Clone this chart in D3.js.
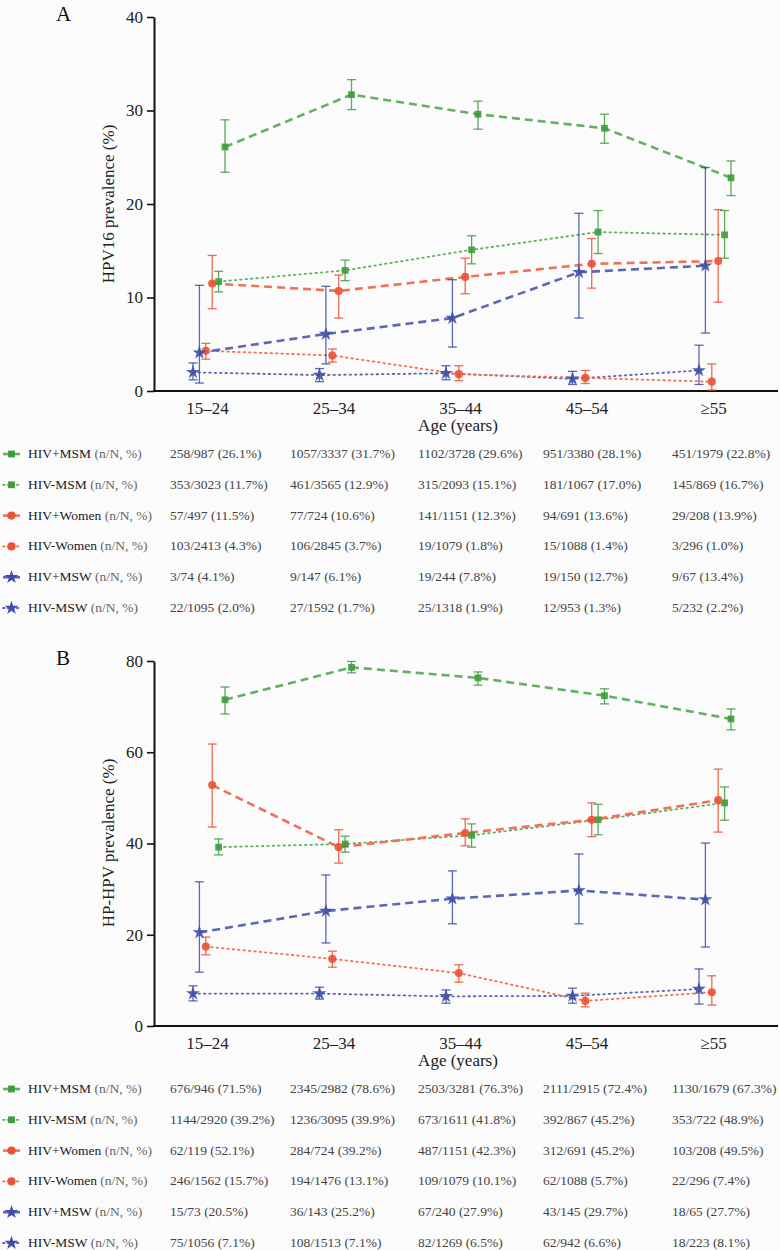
<!DOCTYPE html>
<html>
<head>
<meta charset="utf-8">
<script src="https://cdn.jsdelivr.net/npm/d3@7"></script>
<style>
  html, body { margin: 0; padding: 0; background: #fbfbfb; }
  svg text { font-family: "Liberation Serif", "Tinos", "Times New Roman", "Noto Serif", "Noto Serif CJK SC", "Source Han Serif SC", "DejaVu Serif", "FreeSerif", "Nimbus Roman", "Nimbus Roman No9 L", "Times", serif; }
</style>
</head>
<body>
<svg id="chart" width="780" height="1250"></svg>
<script>
// ---------- DATA ----------
const categories = ["15–24", "25–34", "35–44", "45–54", "≥55"];
const seriesNames = ["HIV+MSM", "HIV-MSM", "HIV+Women", "HIV-Women", "HIV+MSW", "HIV-MSW"];

// Panel A: HPV16 prevalence (%)
const aHivPosMSM      = [26.1, 31.7, 29.6, 28.1, 22.8];
const aHivPosMSMLo    = [23.4, 30.1, 28.0, 26.5, 20.9];
const aHivPosMSMHi    = [29.0, 33.3, 31.0, 29.6, 24.6];
const aHivNegMSM      = [11.7, 12.9, 15.1, 17.0, 16.7];
const aHivNegMSMLo    = [10.6, 11.8, 13.6, 14.7, 14.2];
const aHivNegMSMHi    = [12.8, 14.0, 16.6, 19.3, 19.3];
const aHivPosWomen    = [11.5, 10.7, 12.2, 13.6, 13.9];
const aHivPosWomenLo  = [8.8, 7.8, 10.4, 11.0, 9.5];
const aHivPosWomenHi  = [14.5, 12.4, 14.2, 16.3, 19.4];
const aHivNegWomen    = [4.3, 3.8, 1.8, 1.4, 1.0];
const aHivNegWomenLo  = [3.4, 3.1, 1.1, 0.8, 0.1];
const aHivNegWomenHi  = [5.1, 4.5, 2.7, 2.2, 2.9];
const aHivPosMSW      = [4.1, 6.1, 7.8, 12.7, 13.4];
const aHivPosMSWLo    = [0.85, 2.9, 4.7, 7.8, 6.2];
const aHivPosMSWHi    = [11.3, 11.2, 11.9, 19.0, 23.9];
const aHivNegMSW      = [2.0, 1.7, 1.9, 1.3, 2.2];
const aHivNegMSWLo    = [1.2, 1.0, 1.2, 0.7, 0.7];
const aHivNegMSWHi    = [3.0, 2.4, 2.7, 2.1, 4.9];

const aTableHivPosMSM   = ["258/987 (26.1%)", "1057/3337 (31.7%)", "1102/3728 (29.6%)", "951/3380 (28.1%)", "451/1979 (22.8%)"];
const aTableHivNegMSM   = ["353/3023 (11.7%)", "461/3565 (12.9%)", "315/2093 (15.1%)", "181/1067 (17.0%)", "145/869 (16.7%)"];
const aTableHivPosWomen = ["57/497 (11.5%)", "77/724 (10.6%)", "141/1151 (12.3%)", "94/691 (13.6%)", "29/208 (13.9%)"];
const aTableHivNegWomen = ["103/2413 (4.3%)", "106/2845 (3.7%)", "19/1079 (1.8%)", "15/1088 (1.4%)", "3/296 (1.0%)"];
const aTableHivPosMSW   = ["3/74 (4.1%)", "9/147 (6.1%)", "19/244 (7.8%)", "19/150 (12.7%)", "9/67 (13.4%)"];
const aTableHivNegMSW   = ["22/1095 (2.0%)", "27/1592 (1.7%)", "25/1318 (1.9%)", "12/953 (1.3%)", "5/232 (2.2%)"];

// Panel B: HP-HPV prevalence (%)
const bHivPosMSM      = [71.5, 78.6, 76.3, 72.4, 67.3];
const bHivPosMSMLo    = [68.4, 77.4, 74.7, 70.6, 64.9];
const bHivPosMSMHi    = [74.3, 79.9, 77.6, 73.9, 69.5];
const bHivNegMSM      = [39.2, 39.9, 41.8, 45.2, 48.9];
const bHivNegMSMLo    = [37.5, 38.1, 39.2, 41.9, 45.1];
const bHivNegMSMHi    = [41.0, 41.6, 44.3, 48.6, 52.4];
const bHivPosWomen    = [52.8, 39.2, 42.3, 45.2, 49.5];
const bHivPosWomenLo  = [43.6, 35.7, 39.5, 41.5, 42.5];
const bHivPosWomenHi  = [61.8, 43.0, 45.4, 48.9, 56.3];
const bHivNegWomen    = [17.4, 14.7, 11.6, 5.5, 7.4];
const bHivNegWomenLo  = [15.6, 12.9, 9.6, 4.2, 4.6];
const bHivNegWomenHi  = [19.5, 16.4, 13.4, 7.2, 11.0];
const bHivPosMSW      = [20.5, 25.2, 27.9, 29.7, 27.7];
const bHivPosMSWLo    = [11.8, 18.2, 22.4, 22.4, 17.3];
const bHivPosMSWHi    = [31.6, 33.1, 34.0, 37.7, 40.1];
const bHivNegMSW      = [7.1, 7.1, 6.5, 6.6, 8.1];
const bHivNegMSWLo    = [5.5, 5.9, 5.0, 5.0, 4.8];
const bHivNegMSWHi    = [8.8, 8.5, 7.9, 8.3, 12.5];

const bTableHivPosMSM   = ["676/946 (71.5%)", "2345/2982 (78.6%)", "2503/3281 (76.3%)", "2111/2915 (72.4%)", "1130/1679 (67.3%)"];
const bTableHivNegMSM   = ["1144/2920 (39.2%)", "1236/3095 (39.9%)", "673/1611 (41.8%)", "392/867 (45.2%)", "353/722 (48.9%)"];
const bTableHivPosWomen = ["62/119 (52.1%)", "284/724 (39.2%)", "487/1151 (42.3%)", "312/691 (45.2%)", "103/208 (49.5%)"];
const bTableHivNegWomen = ["246/1562 (15.7%)", "194/1476 (13.1%)", "109/1079 (10.1%)", "62/1088 (5.7%)", "22/296 (7.4%)"];
const bTableHivPosMSW   = ["15/73 (20.5%)", "36/143 (25.2%)", "67/240 (27.9%)", "43/145 (29.7%)", "18/65 (27.7%)"];
const bTableHivNegMSW   = ["75/1056 (7.1%)", "108/1513 (7.1%)", "82/1269 (6.5%)", "62/942 (6.6%)", "18/223 (8.1%)"];

const yTicksA = [0, 10, 20, 30, 40];
const yTicksB = [0, 20, 40, 60, 80];

// ---------- STYLES ----------
const GREEN = "#3d9c3d", GREEN_L = "#63b063";
const RED = "#ea5236", RED_L = "#ef7256";
const BLUE = "#3e4ea6", BLUE_L = "#5d68b3";
const styleOf = {
  "HIV+MSM":   {color: GREEN, line: GREEN_L, dash: "8,5", width: 2.6, shape: d3.symbolSquare, size: 46},
  "HIV-MSM":   {color: GREEN, line: GREEN_L, dash: "1.6,3.8", width: 1.8, shape: d3.symbolSquare, size: 46},
  "HIV+Women": {color: RED,   line: RED_L,   dash: "8,5", width: 2.6, shape: d3.symbolCircle, size: 52},
  "HIV-Women": {color: RED,   line: RED_L,   dash: "1.6,3.8", width: 1.8, shape: d3.symbolCircle, size: 52},
  "HIV+MSW":   {color: BLUE,  line: BLUE_L,  dash: "8,5", width: 2.6, shape: d3.symbolStar, size: 60},
  "HIV-MSW":   {color: BLUE,  line: BLUE_L,  dash: "1.6,3.8", width: 1.8, shape: d3.symbolStar, size: 60}
};
const offsetOrder = ["HIV-MSW", "HIV+MSW", "HIV-Women", "HIV+Women", "HIV-MSM", "HIV+MSM"];
const drawOrder = ["HIV-MSW", "HIV-Women", "HIV-MSM", "HIV+MSW", "HIV+Women", "HIV+MSM"];

const svg = d3.select("#chart");

function drawPanel(p) {
  const g = svg.append("g");
  const x = d3.scalePoint().domain(categories).range([207, 713]);
  const off = d3.scalePoint().domain(offsetOrder).range([-14, 18]);
  const y = d3.scaleLinear().domain(p.yDomain).range(p.yRange);

  g.append("text").attr("x", 56).attr("y", p.yRange[1] + 4).attr("font-size", 21)
    .attr("fill", "#111").text(p.letter);

  const yAxis = d3.axisLeft(y).tickValues(p.yTicks).tickSize(7).tickSizeOuter(0).tickPadding(4);
  const ya = g.append("g").attr("transform", "translate(154,0)").call(yAxis);
  ya.select(".domain").attr("stroke", "#111").attr("stroke-width", 2);
  ya.selectAll(".tick line").attr("stroke", "#111").attr("stroke-width", 1.6);
  ya.selectAll(".tick text").attr("font-size", 17).attr("fill", "#222");

  const xAxis = d3.axisBottom(x).tickSize(0).tickPadding(11);
  const xa = g.append("g").attr("transform", `translate(0,${p.yRange[0]})`).call(xAxis);
  xa.select(".domain").attr("d", "M153,0H778").attr("stroke", "#111").attr("stroke-width", 2);
  xa.selectAll(".tick text").attr("font-size", 17).attr("fill", "#222");

  g.append("text").attr("transform", `translate(114,${p.yTitleY}) rotate(-90)`)
    .attr("text-anchor", "middle").attr("font-size", 17).attr("fill", "#222").text(p.yTitle);
  g.append("text").attr("x", 458).attr("y", p.xTitleY).attr("text-anchor", "middle")
    .attr("font-size", 17).attr("fill", "#222").text("Age (years)");

  const px = (name, i) => x(categories[i]) + off(name);

  drawOrder.forEach(name => {
    const s = p.series[name], st = styleOf[name];
    const line = d3.line().x((d, i) => px(name, i)).y(d => y(d));
    g.append("path").datum(s.v).attr("d", line).attr("fill", "none")
      .attr("stroke", st.line).attr("stroke-width", st.width).attr("stroke-dasharray", st.dash)
      .attr("stroke-linecap", name.includes("-") ? "round" : "butt");
  });

  drawOrder.forEach(name => {
    const s = p.series[name], st = styleOf[name];
    const eg = g.append("g").attr("stroke", st.color).attr("stroke-width", 1.3).attr("stroke-opacity", 0.85);
    s.v.forEach((v, i) => {
      const cx = px(name, i);
      eg.append("line").attr("x1", cx).attr("x2", cx).attr("y1", y(s.lo[i])).attr("y2", y(s.hi[i]));
      eg.append("line").attr("x1", cx - 4.5).attr("x2", cx + 4.5).attr("y1", y(s.lo[i])).attr("y2", y(s.lo[i]));
      eg.append("line").attr("x1", cx - 4.5).attr("x2", cx + 4.5).attr("y1", y(s.hi[i])).attr("y2", y(s.hi[i]));
    });
    g.append("g").selectAll("path").data(s.v).join("path")
      .attr("transform", (d, i) => `translate(${px(name, i)},${y(d)})`)
      .attr("d", d3.symbol().type(st.shape).size(st.size))
      .attr("fill", st.color).attr("fill-opacity", 0.9);
  });

  const colX = [170, 290, 418, 543, 672];
  seriesNames.forEach((name, r) => {
    const st = styleOf[name];
    const ry = p.tableY + r * 30.8;
    const lg = g.append("g");
    lg.append("line").attr("x1", 3).attr("x2", 20).attr("y1", ry - 4).attr("y2", ry - 4)
      .attr("stroke", st.line).attr("stroke-width", st.width)
      .attr("stroke-dasharray", name.includes("-") ? "1.6,3" : null)
      .attr("stroke-linecap", name.includes("-") ? "round" : "butt");
    lg.append("path").attr("transform", `translate(11.5,${ry - 4})`)
      .attr("d", d3.symbol().type(st.shape).size(st.size)).attr("fill", st.color);
    const t = g.append("text").attr("x", 28).attr("y", ry).attr("font-size", 13.5).attr("fill", "#222");
    t.append("tspan").text(name + " ");
    t.append("tspan").attr("fill", "#666").text("(n/N, %)");
    p.table[name].forEach((txt, c) => {
      g.append("text").attr("x", colX[c]).attr("y", ry).attr("font-size", 13.5)
        .attr("fill", "#444").text(txt);
    });
  });
}

drawPanel({
  letter: "A",
  yDomain: [0, 40], yRange: [391, 17], yTicks: yTicksA,
  yTitle: "HPV16 prevalence (%)", yTitleY: 204, xTitleY: 431,
  tableY: 458,
  series: {
    "HIV+MSM":   {v: aHivPosMSM, lo: aHivPosMSMLo, hi: aHivPosMSMHi},
    "HIV-MSM":   {v: aHivNegMSM, lo: aHivNegMSMLo, hi: aHivNegMSMHi},
    "HIV+Women": {v: aHivPosWomen, lo: aHivPosWomenLo, hi: aHivPosWomenHi},
    "HIV-Women": {v: aHivNegWomen, lo: aHivNegWomenLo, hi: aHivNegWomenHi},
    "HIV+MSW":   {v: aHivPosMSW, lo: aHivPosMSWLo, hi: aHivPosMSWHi},
    "HIV-MSW":   {v: aHivNegMSW, lo: aHivNegMSWLo, hi: aHivNegMSWHi}
  },
  table: {
    "HIV+MSM": aTableHivPosMSM, "HIV-MSM": aTableHivNegMSM,
    "HIV+Women": aTableHivPosWomen, "HIV-Women": aTableHivNegWomen,
    "HIV+MSW": aTableHivPosMSW, "HIV-MSW": aTableHivNegMSW
  }
});

drawPanel({
  letter: "B",
  yDomain: [0, 80], yRange: [1026, 661], yTicks: yTicksB,
  yTitle: "HP-HPV prevalence (%)", yTitleY: 843, xTitleY: 1066,
  tableY: 1093,
  series: {
    "HIV+MSM":   {v: bHivPosMSM, lo: bHivPosMSMLo, hi: bHivPosMSMHi},
    "HIV-MSM":   {v: bHivNegMSM, lo: bHivNegMSMLo, hi: bHivNegMSMHi},
    "HIV+Women": {v: bHivPosWomen, lo: bHivPosWomenLo, hi: bHivPosWomenHi},
    "HIV-Women": {v: bHivNegWomen, lo: bHivNegWomenLo, hi: bHivNegWomenHi},
    "HIV+MSW":   {v: bHivPosMSW, lo: bHivPosMSWLo, hi: bHivPosMSWHi},
    "HIV-MSW":   {v: bHivNegMSW, lo: bHivNegMSWLo, hi: bHivNegMSWHi}
  },
  table: {
    "HIV+MSM": bTableHivPosMSM, "HIV-MSM": bTableHivNegMSM,
    "HIV+Women": bTableHivPosWomen, "HIV-Women": bTableHivNegWomen,
    "HIV+MSW": bTableHivPosMSW, "HIV-MSW": bTableHivNegMSW
  }
});
</script>
</body>
</html>
